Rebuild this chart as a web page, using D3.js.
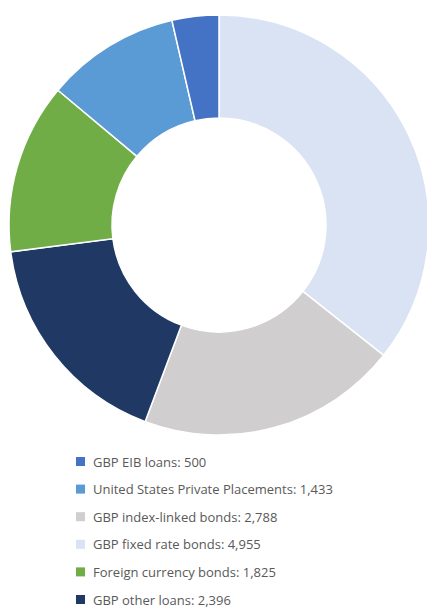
<!DOCTYPE html>
<html><head><meta charset="utf-8">
<script src="https://cdn.jsdelivr.net/npm/d3@7"></script>
<style>body{margin:0;background:#fff;}svg{display:block;}</style>
</head><body>
<script>
const sliceOrder = ["GBP fixed rate bonds","GBP index-linked bonds","GBP other loans","Foreign currency bonds","United States Private Placements","GBP EIB loans"];
const sliceValues = [4955, 2788, 2396, 1825, 1433, 500];
const sliceColors = ["#DAE3F3","#D0CECE","#203864","#70AD47","#5B9BD5","#4472C4"];
const legendOrder = ["GBP EIB loans","United States Private Placements","GBP index-linked bonds","GBP fixed rate bonds","Foreign currency bonds","GBP other loans"];
const legendLabels = ["GBP EIB loans: 500","United States Private Placements: 1,433","GBP index-linked bonds: 2,788","GBP fixed rate bonds: 4,955","Foreign currency bonds: 1,825","GBP other loans: 2,396"];

const W = 427, H = 608;
const svg = d3.select("body").append("svg").attr("width", W).attr("height", H);
const cx = 219, cy = 225, rOut = 210, rIn = 107;
const data = sliceOrder.map((n,i)=>({name:n,value:sliceValues[i],color:sliceColors[i]}));
const pie = d3.pie().value(d=>d.value).sort(null);
const arc = d3.arc().innerRadius(rIn).outerRadius(rOut);
const g = svg.append("g").attr("transform",`translate(${cx},${cy})`);
g.selectAll("path").data(pie(data)).join("path")
  .attr("d", arc).attr("fill", d=>d.data.color)
  .attr("stroke","#fff").attr("stroke-width",1.5);

const colorOf = Object.fromEntries(data.map(d=>[d.name,d.color]));
const y = d3.scalePoint().domain(legendOrder).range([462, 600]);
const lg = svg.append("g");
legendOrder.forEach((n,i)=>{
  lg.append("rect").attr("x",76).attr("y",y(n)-5).attr("width",9).attr("height",9).attr("fill",colorOf[n]);
  lg.append("text").attr("x",93).attr("y",y(n)).attr("dy","0.35em")
    .attr("font-family","'Open Sans', sans-serif").attr("font-size",13).attr("fill","#595959")
    .text(legendLabels[i]);
});
</script>
</body></html>
